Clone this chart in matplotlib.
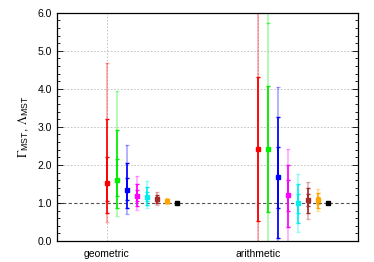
"""
Geometric vs arithmetic MST ratios with 1, 2 and 3 sigma bars.
"""
import matplotlib
matplotlib.use("Agg")
import matplotlib.pyplot as plt
from matplotlib.ticker import MultipleLocator, FormatStrFormatter

groups = ["geometric", "arithmetic"]
colors = ["#ff0000", "#00ee00", "#0000ff", "#ff00ff", "#00eeee", "#a52a2a", "#ffa500", "#000000"]

geo_mid = [1.52, 1.60, 1.34, 1.18, 1.17, 1.10, 1.04, 1.00]
geo_lo1 = [1.05, 1.18, 1.09, 1.05, 1.06, 1.04, 1.02, 1.00]
geo_hi1 = [2.22, 2.16, 1.66, 1.33, 1.29, 1.16, 1.07, 1.00]
geo_lo2 = [0.73, 0.88, 0.88, 0.93, 0.96, 0.99, 0.99, 1.00]
geo_hi2 = [3.21, 2.92, 2.04, 1.51, 1.42, 1.22, 1.09, 1.00]
geo_lo3 = [0.50, 0.65, 0.71, 0.82, 0.87, 0.94, 0.97, 1.00]
geo_hi3 = [4.67, 3.95, 2.52, 1.70, 1.58, 1.29, 1.12, 1.00]

ari_mid = [2.42, 2.42, 1.67, 1.20, 0.99, 1.07, 1.07, 1.00]
ari_lo1 = [0.52, 0.77, 0.87, 0.79, 0.74, 0.91, 0.97, 1.00]
ari_hi1 = [4.32, 4.07, 2.46, 1.61, 1.24, 1.23, 1.17, 1.00]
ari_lo2 = [-1.38, -0.88, 0.07, 0.38, 0.48, 0.74, 0.88, 1.00]
ari_hi2 = [6.22, 5.72, 3.25, 2.01, 1.50, 1.40, 1.26, 1.00]
ari_lo3 = [-3.30, -2.50, -0.70, -0.02, 0.23, 0.58, 0.78, 1.00]
ari_hi3 = [8.10, 7.40, 4.04, 2.42, 1.75, 1.56, 1.36, 1.00]

YMIN, YMAX = 0.0, 6.0
STEP = 10 / 151


def inside(v):
    return YMIN <= v <= YMAX


def caps(ax, x, ends, color, alpha):
    for v in ends:
        if inside(v):
            ax.plot(x, v, marker="_", ms=3.5, mew=1.0, color=color, alpha=alpha,
                    zorder=3, clip_on=False)


def draw_group(ax, x0, mid, lo1, hi1, lo2, hi2, lo3, hi3):
    for i, c in enumerate(colors):
        x = x0 + i * STEP
        if hi3[i] > lo3[i]:
            ax.vlines(x, lo3[i], hi3[i], color=c, alpha=0.35, lw=1.2, zorder=2)
            caps(ax, x, [lo3[i], hi3[i]], c, 0.35)
            if inside(lo2[i]) and inside(hi2[i]):
                ax.vlines(x, lo2[i], hi2[i], color=c, lw=1.2, zorder=3)
                caps(ax, x, [lo2[i], hi2[i]], c, 1.0)
            else:
                caps(ax, x, [lo2[i], hi2[i]], c, 0.6)
            ax.vlines(x, lo1[i], hi1[i], color=c, lw=1.3, zorder=3)
            caps(ax, x, [lo1[i], hi1[i]], c, 1.0)
        ax.plot(x, mid[i], marker="s", ms=2.8, color=c, zorder=4)


def main():
    plt.rcParams["font.family"] = ["Liberation Sans", "DejaVu Sans"]
    plt.rcParams["mathtext.fontset"] = "stix"

    fig = plt.figure(figsize=(3.74, 2.62), dpi=100)
    ax = fig.add_axes([0.152, 0.080, 0.805, 0.8715])

    ax.axhline(1.0, color="#555555", lw=0.8, ls=(0, (3, 2)), zorder=1)
    for y in range(1, 6):
        if y != 1:
            ax.axhline(y, color="#bbbbbb", lw=0.6, ls=(0, (2, 2)), zorder=0)
    for x in range(len(groups)):
        ax.axvline(x, color="#bbbbbb", lw=0.6, ls=(0, (2, 2)), zorder=0)

    draw_group(ax, 0, geo_mid, geo_lo1, geo_hi1, geo_lo2, geo_hi2, geo_lo3, geo_hi3)
    draw_group(ax, 1, ari_mid, ari_lo1, ari_hi1, ari_lo2, ari_hi2, ari_lo3, ari_hi3)

    ax.set_xlim(-50 / 151, 1 + 100 / 151)
    ax.set_ylim(YMIN, YMAX)
    ax.set_xticks(range(len(groups)))
    ax.set_xticklabels(groups, fontsize=7.5)
    ax.yaxis.set_major_locator(MultipleLocator(1.0))
    ax.yaxis.set_minor_locator(MultipleLocator(0.2))
    ax.yaxis.set_major_formatter(FormatStrFormatter("%.1f"))
    ax.tick_params(axis="y", which="both", direction="in", left=True, right=True,
                   labelsize=7.5, width=0.6)
    ax.tick_params(axis="y", which="major", length=4)
    ax.tick_params(axis="y", which="minor", length=2)
    ax.tick_params(axis="x", length=0, pad=6)
    for s in ax.spines.values():
        s.set_linewidth(0.9)

    ax.set_ylabel(r"$\Gamma_{\mathregular{MST}}$, $\Lambda_{\mathregular{MST}}$",
                  fontsize=9, labelpad=5)

    fig.savefig("out.png", dpi=100)


if __name__ == "__main__":
    main()
